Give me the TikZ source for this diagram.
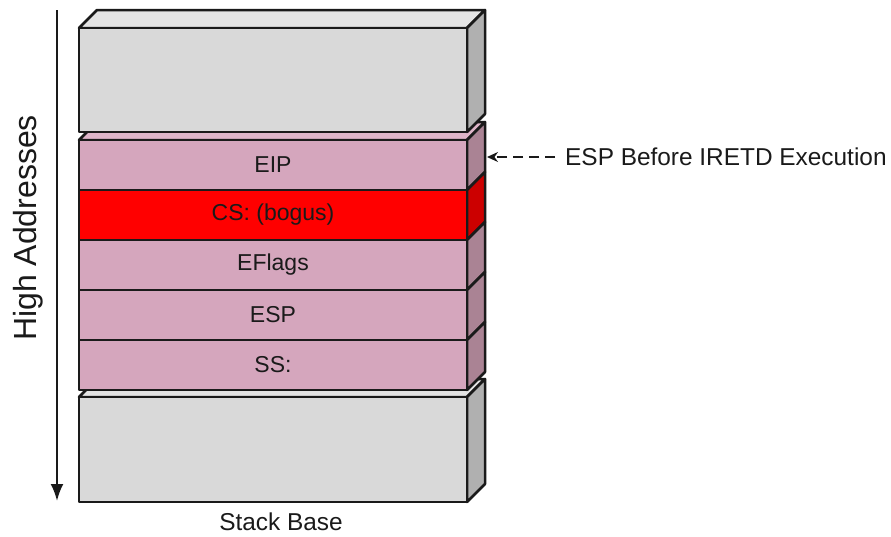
\documentclass[tikz,border=0pt]{standalone}
\usepackage{fontspec}
\setmainfont{Liberation Sans}
\usetikzlibrary{arrows.meta}
\definecolor{greyfront}{HTML}{D9D9D9}
\definecolor{greytop}{HTML}{E4E4E4}
\definecolor{greyside}{HTML}{B0B0B0}
\definecolor{pinkfront}{HTML}{D5A6BD}
\definecolor{pinktop}{HTML}{DEB5C9}
\definecolor{pinkside}{HTML}{AA8394}
\definecolor{redfront}{HTML}{FF0000}
\definecolor{redside}{HTML}{CC0000}
\definecolor{ink}{HTML}{1A1A1A}

% depth of the 3D extrusion
\newcommand\dep{18}
% top face of a slab: front-left x, front-right x, front top y
\newcommand\topface[4]{\filldraw[face,fill=#4] (#1,#3) -- ++(\dep,-\dep) -- (#2+\dep,#3-\dep) -- (#2,#3) -- cycle;}
% side face of a slab: front-right x, top y, bottom y
\newcommand\sideface[4]{\filldraw[face,fill=#4] (#1,#2) -- ++(\dep,-\dep) -- (#1+\dep,#3-\dep) -- (#1,#3) -- cycle;}

\begin{document}
\begin{tikzpicture}[x=1pt,y=-1pt,line join=round,
  face/.style={draw=ink,line width=2.5pt},
  slab/.style={face,anchor=north west,minimum width=388pt,inner sep=0pt,outer sep=0pt,
    font=\fontsize{23}{27}\selectfont,text=ink},
  label/.style={font=\fontsize{24.4}{29}\selectfont,text=ink,inner sep=0pt}]
\useasboundingbox (0,0) rectangle (891,536);

% bottom grey slab (stack base)
\topface{79}{467}{397}{greytop}
\sideface{467}{397}{502}{greyside}
\node[slab,fill=greyfront,minimum height=105pt] (base) at (79,397) {};

% pink frame stack
\topface{79}{467}{140}{pinktop}
\sideface{467}{140}{190}{pinkside}
\sideface{467}{190}{240}{redside}
\sideface{467}{240}{290}{pinkside}
\sideface{467}{290}{340}{pinkside}
\sideface{467}{340}{390}{pinkside}
\node[slab,fill=pinkfront,minimum height=50pt] (eip) at (79,140) {EIP};
\node[slab,fill=redfront,minimum height=50pt] (cs) at (79,190) {CS: (bogus)};
\node[slab,fill=pinkfront,minimum height=50pt] (eflags) at (79,240) {EFlags};
\node[slab,fill=pinkfront,minimum height=50pt] (esp) at (79,290) {ESP};
\node[slab,fill=pinkfront,minimum height=50pt] (ss) at (79,340) {SS:};

% top grey slab
\topface{79}{467}{28}{greytop}
\sideface{467}{28}{132}{greyside}
\node[slab,fill=greyfront,minimum height=104pt] (upper) at (79,28) {};

% address direction arrow
\coordinate (hitop) at (57,10);
\coordinate (hibot) at (57,501);
\draw[ink,line width=2.2pt,-{Latex[length=17pt,width=13pt]}] (hitop) -- (hibot);
\node[label,font=\fontsize{32}{38}\selectfont,rotate=90] (hi) at (28,228) {High Addresses};

% stack pointer marker
\coordinate (espmark) at (487,157);
\node[label,anchor=west] (espnote) at (565,157) {ESP Before IRETD Execution};
\draw[ink,line width=2.2pt,dash pattern=on 10pt off 6pt,-{Stealth[length=11pt,width=10pt]}] (espnote.west) ++(-10,0) -- (espmark);

\node[label] (basetxt) at (281,522) {Stack Base};
\end{tikzpicture}
\end{document}
